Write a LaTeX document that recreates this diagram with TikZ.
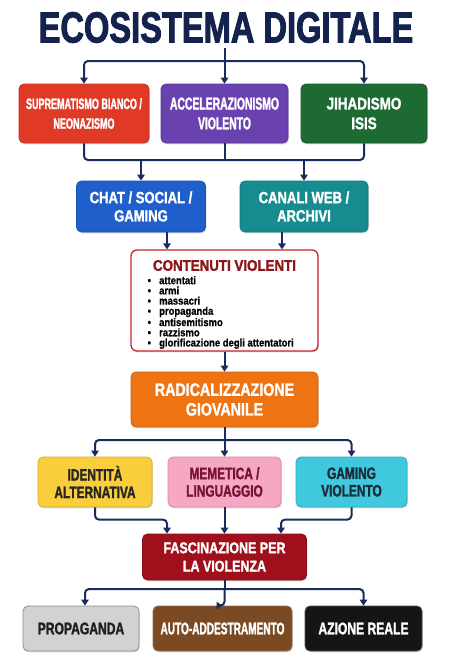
\documentclass[tikz,border=0pt]{standalone}
\usepackage{fontspec}
\setmainfont{Liberation Sans}
\newfontfamily\fA[FakeStretch=0.6,FakeBold=1.5]{Liberation Sans}
\newfontfamily\fB[FakeStretch=0.72,FakeBold=1.5]{Liberation Sans}
\newfontfamily\fC[FakeStretch=0.8,FakeBold=1.5]{Liberation Sans}
\newfontfamily\fD[FakeStretch=0.86,FakeBold=1.5]{Liberation Sans}
\newfontfamily\fL[FakeStretch=0.86,FakeBold=0.8]{Liberation Sans}
\newfontfamily\fT[FakeStretch=0.75,FakeBold=2]{Liberation Sans}
\usetikzlibrary{arrows.meta,shadows,calc}
\definecolor{navy}{HTML}{1B2B5B}
\definecolor{titlenavy}{HTML}{14234E}
\definecolor{cRed}{HTML}{E03A27}
\definecolor{cPurple}{HTML}{6A42B0}
\definecolor{cGreen}{HTML}{1E6A33}
\definecolor{cBlue}{HTML}{1F5FCB}
\definecolor{cTeal}{HTML}{168C91}
\definecolor{cvRed}{HTML}{C8262C}
\definecolor{cvTitle}{HTML}{8E1618}
\definecolor{cOrange}{HTML}{EE7313}
\definecolor{cYellow}{HTML}{F8CE3C}
\definecolor{cPink}{HTML}{F5A7C3}
\definecolor{cPinkText}{HTML}{7A1238}
\definecolor{cCyan}{HTML}{3FC8DE}
\definecolor{cCyanText}{HTML}{1A2B3C}
\definecolor{cDarkRed}{HTML}{A00F1C}
\definecolor{cGrey}{HTML}{D2D2D4}
\definecolor{cBrown}{HTML}{7B4A22}
\definecolor{cBlack}{HTML}{151515}
\begin{document}
\begin{tikzpicture}[x=1pt,y=-1pt,
  conn/.style={draw=navy,line width=2pt,rounded corners=4pt},
  arr/.style={conn,-{Triangle[width=7.5pt,length=6pt]}},
  box/.style={rounded corners=5pt,line width=0.8pt,inner sep=0pt,align=center,
    font=\fB\bfseries\fontsize{16.5}{17.5}\selectfont,
    drop shadow={shadow xshift=0.8pt,shadow yshift=-1.3pt,opacity=0.28}},
]
\useasboundingbox (0,0) rectangle (450,670);
\fill[white] (0,0) rectangle (450,670);

% title
\node[font=\fT\bfseries\fontsize{43.5}{43.5}\selectfont,text=titlenavy,inner sep=0pt] (title) at (226,27.5) {ECOSISTEMA DIGITALE};

% row 1
\node[box,fill=cRed,draw=cRed!85!black,text=white,minimum width=130pt,minimum height=59pt,
  font=\fA\bfseries\fontsize{15}{19.7}\selectfont] (r1a) at (84,113.5) {SUPREMATISMO BIANCO /\\NEONAZISMO};
\node[box,fill=cPurple,draw=cPurple!85!black,text=white,minimum width=127pt,minimum height=59pt,
  font=\fA\bfseries\fontsize{17.3}{19.7}\selectfont] (r1b) at (224.5,113.5) {ACCELERAZIONISMO\\VIOLENTO};
\node[box,fill=cGreen,draw=cGreen!85!black,text=white,minimum width=126pt,minimum height=59pt,
  font=\fC\bfseries\fontsize{16.8}{19.7}\selectfont] (r1c) at (364,113.5) {JIHADISMO\\ISIS};

% row 2
\node[box,fill=cBlue,draw=cBlue!85!black,text=white,minimum width=129pt,minimum height=51pt,
  font=\fC\bfseries\fontsize{16.3}{18.3}\selectfont] (r2a) at (141,206.5) {CHAT / SOCIAL /\\GAMING};
\node[box,fill=cTeal,draw=cTeal!85!black,text=white,minimum width=128pt,minimum height=51pt,
  font=\fC\bfseries\fontsize{16.3}{18.3}\selectfont] (r2b) at (304,206.5) {CANALI WEB /\\ARCHIVI};

% contenuti violenti
\node[draw=cvRed,line width=1.3pt,fill=white,rounded corners=6pt,minimum width=187pt,minimum height=101pt,
  drop shadow={shadow xshift=0.8pt,shadow yshift=-1.3pt,opacity=0.28}] (cv) at (224.5,300.5) {};
\node[font=\fD\bfseries\fontsize{15.5}{15.5}\selectfont,text=cvTitle,inner sep=0pt] (cvt) at (224.5,265.5) {CONTENUTI VIOLENTI};
\node[anchor=north west,inner sep=0pt,align=left,font=\fL\bfseries\fontsize{11}{10.2}\selectfont] (cvl) at (147.5,276)
{\makebox[11.5pt][l]{\textbullet}attentati\\
 \makebox[11.5pt][l]{\textbullet}armi\\
 \makebox[11.5pt][l]{\textbullet}massacri\\
 \makebox[11.5pt][l]{\textbullet}propaganda\\
 \makebox[11.5pt][l]{\textbullet}antisemitismo\\
 \makebox[11.5pt][l]{\textbullet}razzismo\\
 \makebox[11.5pt][l]{\textbullet}glorificazione degli attentatori};

% radicalizzazione
\node[box,fill=cOrange,draw=cOrange!85!black,text=white,minimum width=187pt,minimum height=55pt,
  font=\fC\bfseries\fontsize{17.8}{19.7}\selectfont] (rad) at (224.5,399.5) {RADICALIZZAZIONE\\GIOVANILE};

% row 3
\node[box,fill=cYellow,draw=cYellow!85!black,text=black!85,minimum width=114pt,minimum height=50pt] (r3a) at (95,482) {IDENTITÀ\\ALTERNATIVA};
\node[box,fill=cPink,draw=cPink!85!black,text=cPinkText,minimum width=113pt,minimum height=50pt] (r3b) at (224.5,482) {MEMETICA /\\LINGUAGGIO};
\node[box,fill=cCyan,draw=cCyan!85!black,text=cCyanText,minimum width=111pt,minimum height=50pt] (r3c) at (351.5,482) {GAMING\\VIOLENTO};

% fascinazione
\node[box,fill=cDarkRed,draw=cDarkRed!85!black,text=white,minimum width=164pt,minimum height=46pt,
  font=\fC\bfseries\fontsize{15.6}{18.3}\selectfont] (fas) at (224.5,557) {FASCINAZIONE PER\\LA VIOLENZA};

% row 4
\node[box,fill=cGrey,draw=black!45,text=black!88,minimum width=116pt,minimum height=45pt,
  font=\fB\bfseries\fontsize{16.8}{18}\selectfont] (r4a) at (81,628.5) {PROPAGANDA};
\node[box,fill=cBrown,draw=cBrown!80!white,text=white,minimum width=139pt,minimum height=45pt,
  font=\fA\bfseries\fontsize{16.8}{18}\selectfont] (r4b) at (222.5,628.5) {AUTO-ADDESTRAMENTO};
\node[box,fill=cBlack,draw=black!70,text=white,minimum width=117pt,minimum height=45pt,
  font=\fB\bfseries\fontsize{16.8}{18}\selectfont] (r4c) at (363.5,628.5) {AZIONE REALE};

% connectors: title -> row 1
\coordinate (j1) at (224.5,61);
\draw[arr,shorten <=5pt] (r1b.north |- title.south) -- (r1b.north);
\draw[arr] (j1) -| (r1a.north);
\draw[arr] (j1) -| (r1c.north);

% row 1 -> row 2
\coordinate (j2) at (224.5,160);
\draw[conn] (r1a.south) |- (j2) -| (r1c.south);
\draw[conn] (r1b.south) -- (j2);
\draw[arr] (r2a.north |- j2) -- (r2a.north);
\draw[arr] (r2b.north |- j2) -- (r2b.north);

% row 2 -> contenuti
\coordinate (cvA) at ($(cv.north)+(-57.5,0)$);
\coordinate (cvB) at ($(cv.north)+(57.5,0)$);
\draw[arr] (r2a.south -| cvA) -- (cvA);
\draw[arr] (r2b.south -| cvB) -- (cvB);

% contenuti -> radicalizzazione
\draw[arr] (cv.south) -- (rad.north);

% radicalizzazione -> row 3
\coordinate (j3) at (224.5,440);
\draw[conn] (rad.south) -- (j3);
\draw[arr] (j3) -| (r3a.north);
\draw[arr] (j3) -- (r3b.north);
\draw[arr] (j3) -| (r3c.north);

% row 3 -> fascinazione
\coordinate (fA) at ($(fas.north)+(-57.5,0)$);
\coordinate (fB) at ($(fas.north)+(56.5,0)$);
\draw[arr] (r3a.south) |- ($(fA)+(0,-14)$) -- (fA);
\draw[arr] (r3b.south) -- (fas.north);
\draw[arr] (r3c.south) |- ($(fB)+(0,-14)$) -- (fB);

% fascinazione -> row 4
\coordinate (j4) at (224.5,589);
\draw[conn] (fas.south) -- (j4);
\draw[arr] (j4) -| ($(r4a.north)+(4,0)$);
\draw[arr] (j4) -- (r4b.north -| j4) -- (r4b.north);
\draw[arr] (j4) -| (r4c.north);
\end{tikzpicture}
\end{document}
